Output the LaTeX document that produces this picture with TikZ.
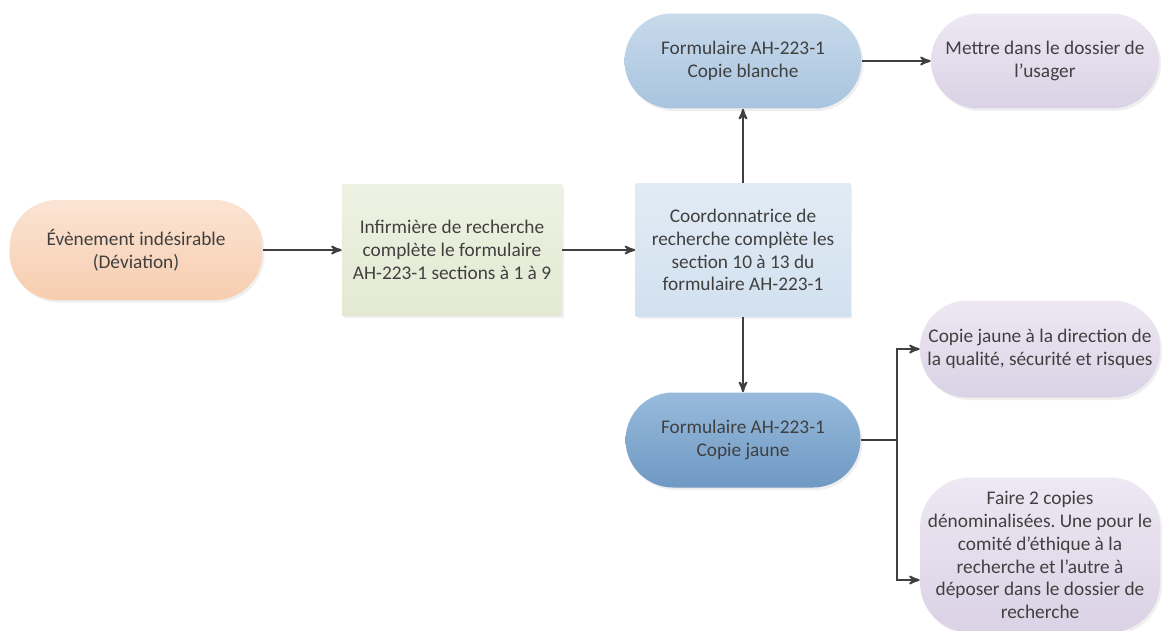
\documentclass[tikz,border=0pt]{standalone}
\usepackage{fontspec}
\setmainfont{Carlito}
\usepackage{tikz}
\usetikzlibrary{arrows,shadows}
\frenchspacing
\definecolor{txtgray}{HTML}{404040}
\definecolor{flechegray}{HTML}{3F3F3F}
\tikzset{
    boite/.style={align=center,text=txtgray,font=\fontsize{11}{13}\selectfont,inner sep=2pt,
        drop shadow={opacity=0.12,shadow xshift=0.04cm,shadow yshift=-0.05cm}},
    pill/.style={boite,rounded corners=0.95cm},
    carre/.style={boite},
    peche/.style={top color=peachtop,bottom color=peachbot},
    vert/.style={top color=greentop,bottom color=greenbot},
    bleuclair/.style={top color=lbluetop,bottom color=lbluebot},
    bleu/.style={top color=bluetop,bottom color=bluebot},
    bleufonce/.style={top color=dbluetop,bottom color=dbluebot},
    lilas/.style={top color=liltop,bottom color=lilbot},
    fleche/.style={->,>=stealth',draw=flechegray,line width=1.1pt}
}
\definecolor{peachtop}{HTML}{FBE4D4}
\definecolor{peachbot}{HTML}{F7CDAF}
\definecolor{greentop}{HTML}{EEF2E3}
\definecolor{greenbot}{HTML}{E3E9D2}
\definecolor{lbluetop}{HTML}{E1EBF5}
\definecolor{lbluebot}{HTML}{D2E1EF}
\definecolor{bluetop}{HTML}{C8DAEB}
\definecolor{bluebot}{HTML}{A8C4DF}
\definecolor{dbluetop}{HTML}{98BBDC}
\definecolor{dbluebot}{HTML}{6F98C3}
\definecolor{liltop}{HTML}{EDE8F3}
\definecolor{lilbot}{HTML}{DAD2E5}
\begin{document}
\begin{tikzpicture}[x=0.02cm,y=-0.02cm]
\useasboundingbox[fill=white] (0,0) rectangle (1163,630);
% etapes
\node[pill,peche,minimum width=5.06cm,minimum height=2cm] (evt) at (136,250)
    {Évènement indésirable\\(Déviation)};
\node[carre,vert,minimum width=4.4cm,minimum height=2.64cm] (infirm) at (452,250)
    {Infirmière de recherche\\complète le formulaire\\AH-223-1 sections à 1 à 9};
\node[carre,bleuclair,minimum width=4.3cm,minimum height=2.66cm] (coord) at (743,250)
    {Coordonnatrice de\\recherche complète les\\section 10 à 13 du\\formulaire AH-223-1};
\node[pill,bleu,minimum width=4.74cm,minimum height=1.9cm] (blanche) at (743,61)
    {Formulaire AH-223-1\\Copie blanche};
\node[pill,lilas,minimum width=4.56cm,minimum height=1.9cm] (usager) at (1045,61)
    {Mettre dans le dossier de\\l’usager};
\node[pill,bleufonce,minimum width=4.7cm,minimum height=1.9cm] (jaune) at (743,440)
    {Formulaire AH-223-1\\Copie jaune};
\node[pill,lilas,minimum width=4.8cm,minimum height=1.94cm] (direction) at (1040,349)
    {Copie jaune à la direction de\\la qualité, sécurité et risques};
\node[pill,lilas,rounded corners=1cm,minimum width=4.8cm,minimum height=3.1cm] (copies) at (1040,555)
    {Faire 2 copies\\dénominalisées. Une pour le\\comité d’éthique à la\\recherche et l’autre à\\déposer dans le dossier de\\recherche};
% fleches
\draw[fleche] (evt) -- (infirm);
\draw[fleche] (infirm) -- (coord);
\draw[fleche] (coord) -- (blanche);
\draw[fleche] (blanche) -- (usager);
\draw[fleche] (coord) -- (jaune);
\draw[fleche] (jaune.east) -- (897,440) coordinate (br) |- (direction.west);
\draw[fleche] (br) |- ([yshift=-0.5cm]copies.west);
\end{tikzpicture}
\end{document}
